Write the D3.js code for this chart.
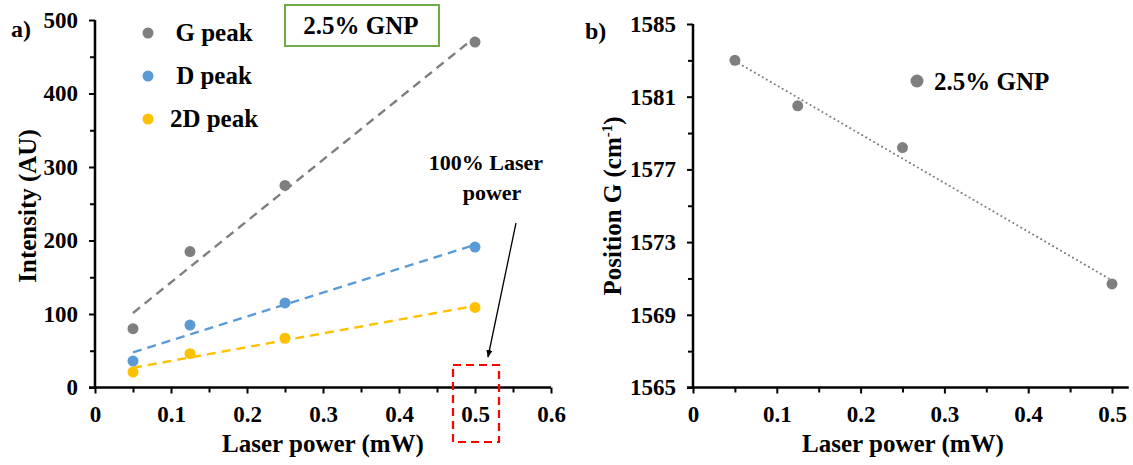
<!DOCTYPE html>
<html><head><meta charset="utf-8">
<script src="https://cdn.jsdelivr.net/npm/d3@7"></script>
<style>body{margin:0;background:#fff;}</style></head><body>
<svg id="c" width="1133" height="465"></svg>
<script>
// ---- data ----
const laserPower = [0.05, 0.125, 0.25, 0.5];
const gPeak = [80, 185, 275, 470];
const dPeak = [36, 85, 115, 191];
const d2Peak = [21, 46, 67, 109];
const positionG = [1583.0, 1580.5, 1578.2, 1570.7];
const leftXTicks = [0, 0.1, 0.2, 0.3, 0.4, 0.5, 0.6];
const leftYTicks = [0, 100, 200, 300, 400, 500];
const rightXTicks = [0, 0.1, 0.2, 0.3, 0.4, 0.5];
const rightYTicks = [1565, 1569, 1573, 1577, 1581, 1585];
const seriesNames = ["G peak", "D peak", "2D peak"];
const seriesColors = ["#7f7f7f", "#5b9bd5", "#ffc000"];

const svg = d3.select("#c");

function linreg(xs, ys) {
  const n = xs.length, mx = d3.mean(xs), my = d3.mean(ys);
  let sxy = 0, sxx = 0;
  for (let i = 0; i < n; i++) { sxy += (xs[i]-mx)*(ys[i]-my); sxx += (xs[i]-mx)**2; }
  const b = sxy / sxx, a = my - b*mx;
  return x => a + b*x;
}

function drawAxes(g, x, y, xMajor, xMinor, yMajor, yMinor, fmtX, fmtY) {
  const x0 = x.range()[0], x1 = x.range()[1], y0 = y.range()[0], y1 = y.range()[1];
  g.append("g").attr("transform", `translate(0,${y0})`)
    .call(d3.axisBottom(x).tickValues(xMinor).tickSize(5).tickFormat(""))
    .call(a => a.select(".domain").remove())
    .selectAll("line").attr("stroke", "#000").attr("stroke-width", 2);
  g.append("g").attr("transform", `translate(${x0},0)`)
    .call(d3.axisLeft(y).tickValues(yMinor).tickSize(5).tickFormat(""))
    .call(a => a.select(".domain").remove())
    .selectAll("line").attr("stroke", "#000").attr("stroke-width", 2);
  const ax = g.append("g").attr("transform", `translate(0,${y0})`)
    .call(d3.axisBottom(x).tickValues(xMajor).tickSize(6).tickPadding(12).tickFormat(fmtX));
  ax.select(".domain").remove();
  ax.selectAll("line").attr("stroke", "#000").attr("stroke-width", 2);
  ax.selectAll("text").attr("font-size", 23).attr("fill", "#000");
  const ay = g.append("g").attr("transform", `translate(${x0},0)`)
    .call(d3.axisLeft(y).tickValues(yMajor).tickSize(6).tickPadding(11).tickFormat(fmtY));
  ay.select(".domain").remove();
  ay.selectAll("line").attr("stroke", "#000").attr("stroke-width", 2);
  ay.selectAll("text").attr("font-size", 23).attr("fill", "#000");
  g.append("line").attr("x1", x0).attr("x2", x0).attr("y1", y0 + 1).attr("y2", y1)
    .attr("stroke", "#000").attr("stroke-width", 2.5);
  g.append("line").attr("x1", x0 - 6).attr("x2", x1).attr("y1", y0).attr("y2", y0)
    .attr("stroke", "#000").attr("stroke-width", 2.5);
}

const fmtNum = d => d === 0 ? "0" : String(d);

// ===== Left panel =====
const xL = d3.scaleLinear().domain([0, 0.6]).range([95, 551]);
const yL = d3.scaleLinear().domain([0, 500]).range([387.5, 20]);
const gL = svg.append("g");
drawAxes(gL, xL, yL, leftXTicks, d3.range(0.05, 0.6, 0.1), leftYTicks, d3.range(50, 500, 100), fmtNum, fmtNum);

const seriesData = [gPeak, dPeak, d2Peak];
seriesData.forEach((vals, i) => {
  const f = linreg(laserPower, vals);
  const ends = [d3.min(laserPower), d3.max(laserPower)];
  gL.append("line")
    .attr("x1", xL(ends[0])).attr("y1", yL(f(ends[0])))
    .attr("x2", xL(ends[1])).attr("y2", yL(f(ends[1])))
    .attr("stroke", seriesColors[i]).attr("stroke-width", 2.4)
    .attr("stroke-dasharray", "9,6");
});
seriesData.forEach((vals, i) => {
  gL.selectAll(null).data(vals).enter().append("circle")
    .attr("cx", (d, j) => xL(laserPower[j])).attr("cy", d => yL(d))
    .attr("r", 5.5).attr("fill", seriesColors[i]);
});

seriesNames.forEach((n, i) => {
  const cy = 33 + i * 43;
  gL.append("circle").attr("cx", 148).attr("cy", cy).attr("r", 5.5).attr("fill", seriesColors[i]);
  gL.append("text").attr("x", 214).attr("y", cy + 8).attr("text-anchor", "middle")
    .attr("font-size", 25).text(n);
});

gL.append("rect").attr("x", 285).attr("y", 5).attr("width", 154).attr("height", 41)
  .attr("fill", "none").attr("stroke", "#70ad47").attr("stroke-width", 2);
gL.append("text").attr("x", 361).attr("y", 34).attr("text-anchor", "middle")
  .attr("font-size", 25).text("2.5% GNP");

gL.append("text").attr("x", 486).attr("y", 170).attr("text-anchor", "middle").attr("font-size", 22).text("100% Laser");
gL.append("text").attr("x", 492).attr("y", 200).attr("text-anchor", "middle").attr("font-size", 22).text("power");
svg.append("defs").append("marker").attr("id", "arr").attr("viewBox", "0 0 10 10")
  .attr("refX", 9).attr("refY", 5).attr("markerWidth", 6).attr("markerHeight", 6)
  .attr("orient", "auto").append("path").attr("d", "M0,1 L10,5 L0,9 Z").attr("fill", "#000");
gL.append("line").attr("x1", 516).attr("y1", 223).attr("x2", 488).attr("y2", 357)
  .attr("stroke", "#000").attr("stroke-width", 1.3).attr("marker-end", "url(#arr)");
gL.append("rect").attr("x", 453).attr("y", 365).attr("width", 46).attr("height", 77)
  .attr("fill", "none").attr("stroke", "#ff0000").attr("stroke-width", 2.2).attr("stroke-dasharray", "8,5");

gL.append("text").attr("x", 11).attr("y", 37).attr("font-size", 24).text("a)");
gL.append("text").attr("x", 323).attr("y", 452).attr("text-anchor", "middle").attr("font-size", 25).text("Laser power (mW)");
gL.append("text").attr("transform", "translate(36,206) rotate(-90)").attr("text-anchor", "middle")
  .attr("font-size", 25).text("Intensity (AU)");

// ===== Right panel =====
const xR = d3.scaleLinear().domain([0, 0.52]).range([693, 693 + 0.52 * 838]);
const yR = d3.scaleLinear().domain([1565, 1585]).range([387.5, 24]);
const gR = svg.append("g");
drawAxes(gR, xR, yR, rightXTicks, d3.range(0.05, 0.5, 0.1), rightYTicks, d3.range(1567, 1585, 4), fmtNum, fmtNum);

const fR = linreg(laserPower, positionG);
const eR = [d3.min(laserPower), d3.max(laserPower)];
gR.append("line")
  .attr("x1", xR(eR[0])).attr("y1", yR(fR(eR[0])))
  .attr("x2", xR(eR[1])).attr("y2", yR(fR(eR[1])))
  .attr("stroke", "#7f7f7f").attr("stroke-width", 2)
  .attr("stroke-linecap", "round").attr("stroke-dasharray", "0.1,4.5");
gR.selectAll(null).data(positionG).enter().append("circle")
  .attr("cx", (d, j) => xR(laserPower[j])).attr("cy", d => yR(d))
  .attr("r", 5.5).attr("fill", "#7f7f7f");

gR.append("circle").attr("cx", 917).attr("cy", 81).attr("r", 6.5).attr("fill", "#7f7f7f");
gR.append("text").attr("x", 934).attr("y", 90).attr("font-size", 25).text("2.5% GNP");

gR.append("text").attr("x", 585).attr("y", 39).attr("font-size", 24).text("b)");
gR.append("text").attr("x", 903).attr("y", 452).attr("text-anchor", "middle").attr("font-size", 25).text("Laser power (mW)");
const yt = gR.append("text").attr("transform", "translate(621,206) rotate(-90)").attr("text-anchor", "middle")
  .attr("font-size", 25);
yt.append("tspan").text("Position G (cm");
yt.append("tspan").attr("font-size", 15).attr("dy", -9).text("-1");
yt.append("tspan").attr("dy", 9).text(")");

svg.selectAll("text").attr("font-family", "Liberation Serif").attr("font-weight", "bold");
svg.selectAll("g").attr("font-family", null);
</script>
</body></html>
